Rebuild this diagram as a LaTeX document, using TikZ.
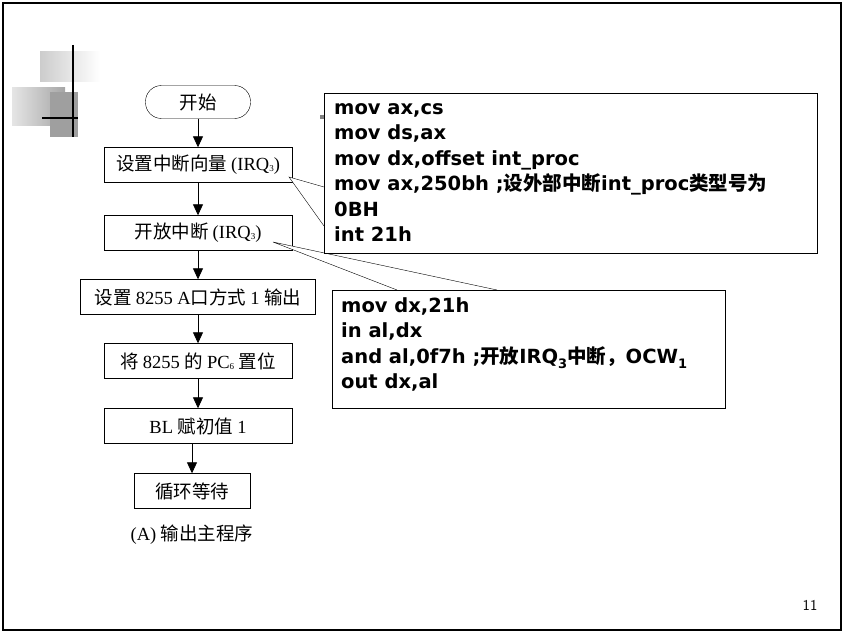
\documentclass[tikz,border=0pt]{standalone}
\usepackage{fontspec}
\setmainfont{Liberation Serif}
\newfontfamily\cjk{Noto Sans CJK SC}
\newfontfamily\codefont{DejaVu Sans}
\usetikzlibrary{arrows.meta, positioning, shapes}

\begin{document}
\begin{tikzpicture}[x=1pt, y=-1pt,
    step box/.style={draw=black, fill=white, minimum width=188pt, minimum height=35pt, inner sep=2pt, font=\fontsize{18.5}{20}\selectfont},
    term box/.style={step box, rounded corners=16pt, minimum width=105pt, minimum height=33pt},
    code box/.style={draw=black, fill=white, anchor=north west, align=left, inner sep=0pt, font=\codefont\bfseries\fontsize{19.5}{25.5}\selectfont},
    flow/.style={-{Triangle[length=11pt, width=10pt]}, thick},
]
    \useasboundingbox (0,0) rectangle (846,634);
    % frame
    \draw[line width=2.5pt] (3,3) rectangle (841,630);

    % corner ornament
    \shade[left color=gray!40, right color=white] (40,52) rectangle (100,82);
    \shade[left color=gray!20, right color=gray!70] (12,87) rectangle (65,125);
    \fill[gray!75] (50,92) rectangle (78,137);
    \draw[line width=2.5pt] (73,45) -- (73,137);
    \draw[line width=2.5pt] (42,118) -- (78,118);
    \fill[gray] (320,115) rectangle (324,119);

    % Nodes
    \node[term box] (start) at (198,102) {\cjk 开始};
    \node[step box] (vec) at (198,165) {\cjk 设置中断向量\ \rmfamily(IRQ\raisebox{-1pt}{\small 3})};
    \node[step box] (open) at (198,233) {\cjk 开放中断\ \rmfamily(IRQ\raisebox{-1pt}{\small 3})};
    \node[step box, minimum width=235pt] (mode) at (198,297) {\cjk 设置 \rmfamily 8255 A\cjk 口方式 \rmfamily 1 \cjk 输出};
    \node[step box] (pc) at (198,361) {\cjk 将 \rmfamily 8255 \cjk 的 \rmfamily PC\raisebox{-1pt}{\small 6}\ \cjk 置位};
    \node[step box] (bl) at (198,426) {\rmfamily BL \cjk 赋初值 \rmfamily 1};
    \node[step box, minimum width=116pt] (wait) at (192,491) {\cjk 循环等待};
    \node[font=\fontsize{18.5}{20}\selectfont] (cap) at (192,535) {(A) {\cjk 输出主程序}};
    \node[font=\sffamily\fontsize{15}{16}\selectfont] (page) at (810,605) {11};

    % Edges
    \draw[flow] (start) -- (vec);
    \draw[flow] (vec) -- (open);
    \draw[flow] (open) -- (mode);
    \draw[flow] (mode) -- (pc);
    \draw[flow] (pc) -- (bl);
    \draw[flow] (bl.south -| wait) -- (wait);

    % callouts
    \coordinate (tipA) at (289,177);
    \coordinate (tipB) at (273,242);
    \draw[fill=white] (324,187) -- (tipA) -- (324,226);
    \draw[fill=white] (397,290) -- (tipB) -- (497,290);
    \node[code box, minimum width=493pt, minimum height=160pt] (codeA) at (324,93) {};
    \node[code box, draw=none] (txtA) at (334,103) {mov ax,cs\\mov ds,ax\\mov dx,offset int\_proc\\mov ax,250bh ;{\cjk 设外部中断}int\_proc{\cjk 类型号为}\\0BH\\int 21h};
    \node[code box, minimum width=393pt, minimum height=118pt] (codeB) at (332,290) {};
    \node[code box, draw=none] (txtB) at (341,297) {mov dx,21h\\in al,dx\\and al,0f7h ;{\cjk 开放}IRQ\raisebox{-5pt}{\fontsize{13}{14}\selectfont 3}{\cjk 中断，}OCW\raisebox{-5pt}{\fontsize{13}{14}\selectfont 1}\\out dx,al};
\end{tikzpicture}
\end{document}
